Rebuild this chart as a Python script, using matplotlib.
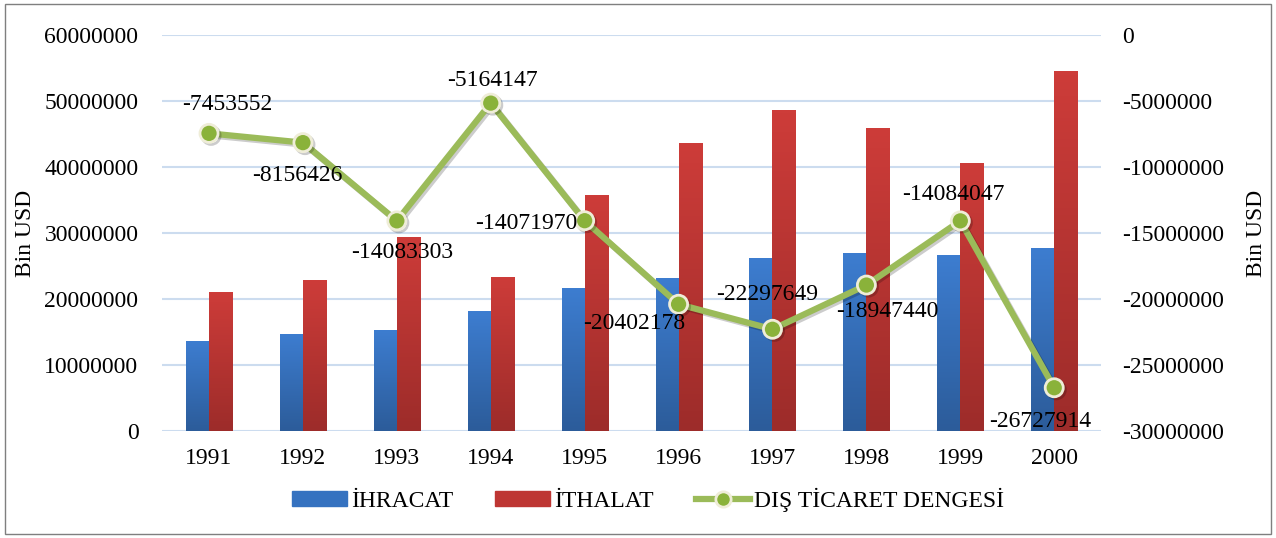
import numpy as np
import matplotlib
matplotlib.use("Agg")
import matplotlib.pyplot as plt
import matplotlib.patheffects as pe
from matplotlib.patches import Rectangle
from matplotlib.lines import Line2D

years = ["1991", "1992", "1993", "1994", "1995", "1996", "1997", "1998", "1999", "2000"]
ihracat = [13593462, 14714629, 15345067, 18105872, 21637041, 23224465, 26261072, 26973952, 26587225, 27774906]
ithalat = [21047014, 22871055, 29428370, 23270019, 35709011, 43626642, 48558721, 45921392, 40671272, 54502820]
denge = [-7453552, -8156426, -14083303, -5164147, -14071970, -20402178, -22297649, -18947440, -14084047, -26727914]
# label offsets in points (dx, dy, ha)
label_pos = [(13, 21, "center"), (-4, -24, "center"), (4, -23, "center"), (1, 16, "center"),
             (-5, -2, "right"), (-32, -14, "center"), (-4, 25, "center"), (15, -19, "center"),
             (-5, 19, "center"), (-10, -24, "center")]

plt.rcParams["font.family"] = ["Liberation Serif", "DejaVu Serif"]
FS = 17

fig = plt.figure(figsize=(12.76, 5.38), dpi=100)
ax = fig.add_axes([0.127, 0.199, 0.736, 0.736])
ax2 = ax.twinx()

x = np.arange(len(years))
w = 0.245
ax.set_xlim(-0.5, len(years) - 0.5)
ax.set_ylim(0, 60000000)
ax2.set_ylim(-30000000, 0)


def gradient_bars(bars, top, bottom):
    cmap = matplotlib.colors.LinearSegmentedColormap.from_list("g", [bottom, top])
    grad = np.linspace(0, 1, 100).reshape(-1, 1)
    for b in bars:
        b.set_facecolor("none")
        b.set_edgecolor("none")
        x0, y0 = b.get_x(), b.get_y()
        im = ax.imshow(grad, cmap=cmap, aspect="auto", origin="lower",
                       extent=[x0, x0 + b.get_width(), y0, y0 + b.get_height()], zorder=2)
        im.set_clip_path(b)


b1 = ax.bar(x - w / 2, ihracat, w, zorder=2)
b2 = ax.bar(x + w / 2, ithalat, w, zorder=2)
gradient_bars(b1, "#3d7dd0", "#2c5c9a")
gradient_bars(b2, "#cd3c39", "#9d2c2a")
ax.set_xlim(-0.5, len(years) - 0.5)
ax.set_ylim(0, 60000000)

ax.grid(axis="y", color="#ccdcef", linewidth=1.5, zorder=0)
ax.set_axisbelow(True)
for a in (ax, ax2):
    for s in a.spines.values():
        s.set_visible(False)
    a.tick_params(length=0, labelsize=FS)

ax.set_xticks(x)
ax.set_xticklabels(years)
ax.tick_params(axis="x", pad=12)
ax.tick_params(axis="y", pad=17)
ax2.tick_params(axis="y", pad=15)
ax.set_yticks(np.arange(0, 60000001, 10000000))
ax.set_yticklabels([f"{v:d}" for v in range(0, 60000001, 10000000)])
ax2.set_yticks(np.arange(-30000000, 1, 5000000))
ax2.set_yticklabels([f"{v:d}" for v in range(-30000000, 1, 5000000)])
ax.set_ylabel("Bin USD", fontsize=FS, labelpad=6)
ax2.set_ylabel("Bin USD", fontsize=FS, labelpad=16)

ax2.plot(x, denge, color="#9bbb59", linewidth=4.5, marker="o", markersize=13,
         markerfacecolor="#8ab23a", markeredgecolor="#efedd8", markeredgewidth=2,
         zorder=3, path_effects=[pe.SimpleLineShadow(offset=(1.5, -1.5), alpha=0.2), pe.Normal()])

for xi, v, (dx, dy, ha) in zip(x, denge, label_pos):
    ax2.annotate(f"{v:d}", (xi, v), xytext=(dx, dy), textcoords="offset points",
                 ha=ha, va="center", fontsize=FS, zorder=5)

handles = [Rectangle((0, 0), 1, 1, color="#3572c0"),
           Rectangle((0, 0), 1, 1, color="#be3633"),
           Line2D([], [], color="#9bbb59", linewidth=4.5, marker="o", markersize=11,
                  markerfacecolor="#8ab23a", markeredgecolor="#efedd8", markeredgewidth=2)]
fig.legend(handles, ["İHRACAT", "İTHALAT", "DIŞ TİCARET DENGESİ"], loc="center",
           bbox_to_anchor=(0.508, 0.071), ncol=3, frameon=False, fontsize=FS,
           handlelength=2.3, handleheight=0.55, handletextpad=0.17, columnspacing=1.8)

fig.patches.append(Rectangle((0.004, 0.008), 0.992, 0.984, transform=fig.transFigure,
                             fill=False, edgecolor="#7f7f7f", linewidth=1))

fig.savefig("out.png", dpi=100)
